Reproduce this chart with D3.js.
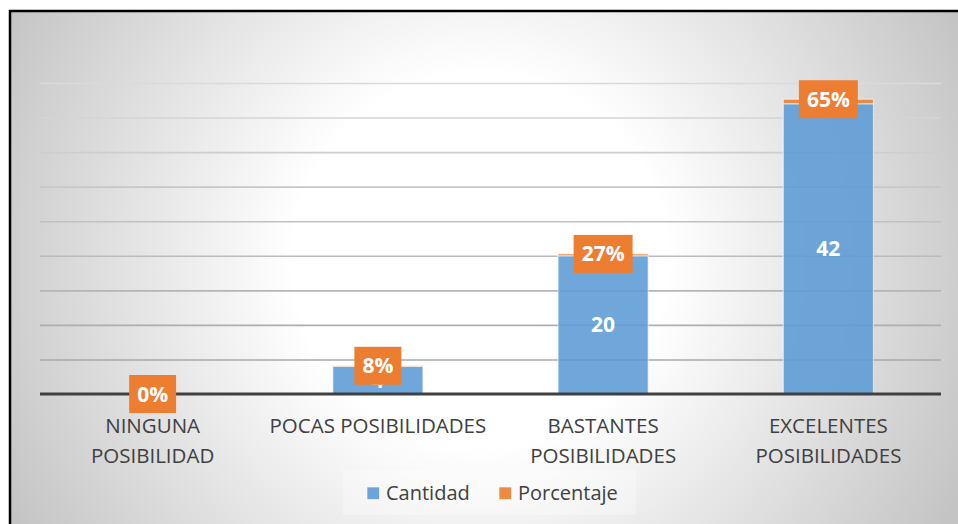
<!DOCTYPE html>
<html>
<head>
<meta charset="utf-8">
<script src="https://cdn.jsdelivr.net/npm/d3@7"></script>
<style>
  html, body { margin: 0; padding: 0; background: #ffffff; }
  svg { display: block; }
</style>
</head>
<body>
<svg id="chart" width="958" height="524"></svg>
<script>
// ---- data ----
const categories = ["NINGUNA POSIBILIDAD", "POCAS POSIBILIDADES", "BASTANTES POSIBILIDADES", "EXCELENTES POSIBILIDADES"];
const cantidad = [0, 4, 20, 42];
const porcentaje = [0, 0.08, 0.27, 0.65];
const seriesNames = ["Cantidad", "Porcentaje"];
const yTicks = [0, 5, 10, 15, 20, 25, 30, 35, 40, 45];

// ---- setup ----
const W = 958, H = 524;
const svg = d3.select("#chart");
const margin = { left: 40, right: 17, top: 83, bottom: 130 };
const plotW = W - margin.left - margin.right;
const baseY = 394;

const defs = svg.append("defs");
const rg = defs.append("radialGradient")
  .attr("id", "bg").attr("gradientUnits", "userSpaceOnUse")
  .attr("cx", 480).attr("cy", 260).attr("r", 534);
rg.append("stop").attr("offset", "0").attr("stop-color", "#ffffff");
rg.append("stop").attr("offset", "0.35").attr("stop-color", "#ffffff");
rg.append("stop").attr("offset", "1").attr("stop-color", "#c4c4c4");

// background + border (top/left visible)
svg.append("rect").attr("x", 10).attr("y", 11).attr("width", W).attr("height", H)
  .attr("fill", "url(#bg)").attr("stroke", "#000").attr("stroke-width", 2.5);

const rows = categories.map((c, i) => ({ cat: c, Cantidad: cantidad[i], Porcentaje: porcentaje[i] }));
const stacked = d3.stack().keys(seriesNames)(rows);

const x = d3.scaleBand().domain(categories).range([margin.left, margin.left + plotW])
  .paddingInner(0.6).paddingOuter(0.3);
const y = d3.scaleLinear().domain([0, 45]).range([baseY, margin.top]);

const colors = { Cantidad: "#5b9bd5", Porcentaje: "#ed7d31" };

// gridlines
const gridColor = d3.scaleLinear().domain([45, 5]).range(["#dadada", "#a8a8a8"]);
const grid = svg.append("g").attr("transform", `translate(${margin.left},0)`)
  .call(d3.axisLeft(y).tickValues(yTicks.filter(v => v > 0)).tickSize(-plotW).tickFormat(""));
grid.select(".domain").remove();
grid.selectAll(".tick line").attr("stroke", d => gridColor(d)).attr("stroke-width", 1.6);

// bars
const layers = svg.append("g").selectAll("g").data(stacked).join("g")
  .attr("fill", d => colors[d.key]);
layers.selectAll("rect").data(d => d).join("rect")
  .attr("x", d => x(d.data.cat))
  .attr("width", x.bandwidth())
  .attr("y", d => y(d[1]))
  .attr("height", d => Math.max(0, y(d[0]) - y(d[1])))
  .attr("fill-opacity", 0.88)
  .attr("stroke", "rgba(255,255,255,0.55)")
  .attr("stroke-width", d => (y(d[0]) - y(d[1]) > 0.1 ? 1.2 : 0));

// baseline
svg.append("line").attr("x1", margin.left).attr("x2", margin.left + plotW)
  .attr("y1", baseY).attr("y2", baseY).attr("stroke", "#404040").attr("stroke-width", 3.2);

// x axis labels
const wrapWidth = 220;
const xAxis = svg.append("g").attr("transform", `translate(0,${baseY})`)
  .call(d3.axisBottom(x).tickSize(0).tickPadding(0));
xAxis.select(".domain").remove();
xAxis.selectAll("text")
  .attr("font-family", "'Open Sans', sans-serif").attr("font-size", 20.5)
  .attr("fill", "#404040").attr("dy", null).attr("y", 39)
  .each(function (d) {
    const t = d3.select(this);
    const words = d.split(" ");
    t.text(null);
    let line = [], lineNo = 0;
    let ts = t.append("tspan").attr("x", 0).attr("y", 39);
    words.forEach(w => {
      line.push(w);
      ts.text(line.join(" "));
      if (ts.node().getComputedTextLength() > wrapWidth && line.length > 1) {
        line.pop(); ts.text(line.join(" "));
        line = [w]; lineNo++;
        ts = t.append("tspan").attr("x", 0).attr("y", 39 + lineNo * 30).text(w);
      }
    });
  });

// Cantidad labels (centre of blue segment); zero values have no visible label
const cantLayer = stacked[0].filter(d => d.data.Cantidad > 0);
svg.append("g").selectAll("text").data(cantLayer).join("text")
  .attr("x", d => x(d.data.cat) + x.bandwidth() / 2)
  .attr("y", d => (y(d[0]) + y(d[1])) / 2)
  .attr("dy", "0.36em").attr("text-anchor", "middle")
  .attr("font-family", "'Open Sans', sans-serif").attr("font-weight", 700).attr("font-size", 21)
  .attr("fill", "#ffffff")
  .text(d => d.data.Cantidad);

// Porcentaje labels (boxes at stack top)
const pctLayer = stacked[1];
const pctG = svg.append("g").selectAll("g").data(pctLayer).join("g")
  .attr("transform", d => `translate(${x(d.data.cat) + x.bandwidth() / 2},${y(d[1])})`);
pctG.append("text")
  .attr("text-anchor", "middle").attr("dy", "0.36em")
  .attr("font-family", "'Open Sans', sans-serif").attr("font-weight", 700).attr("font-size", 21)
  .attr("fill", "#ffffff")
  .text(d => d3.format(".0%")(d.data.Porcentaje));
pctG.each(function () {
  const g = d3.select(this);
  const w = g.select("text").node().getComputedTextLength();
  g.insert("rect", "text").attr("x", -w / 2 - 8).attr("y", -19)
    .attr("width", w + 16).attr("height", 38).attr("fill", "#ed7d31");
});

// legend
const lg = svg.append("g");
lg.append("rect").attr("x", 343).attr("y", 470).attr("width", 293).attr("height", 45)
  .attr("fill", "rgba(255,255,255,0.3)");
const legItems = [{ k: "Cantidad", x: 367 }, { k: "Porcentaje", x: 499 }];
legItems.forEach(it => {
  lg.append("rect").attr("x", it.x).attr("y", 487).attr("width", 12.5).attr("height", 12.5)
    .attr("fill", colors[it.k]).attr("fill-opacity", 0.9)
    .attr("stroke", "rgba(255,255,255,0.6)").attr("stroke-width", 1);
  lg.append("text").attr("x", it.x + 19).attr("y", 500)
    .attr("font-family", "'Open Sans', sans-serif").attr("font-size", 20).attr("fill", "#404040")
    .text(it.k);
});
</script>
</body>
</html>
